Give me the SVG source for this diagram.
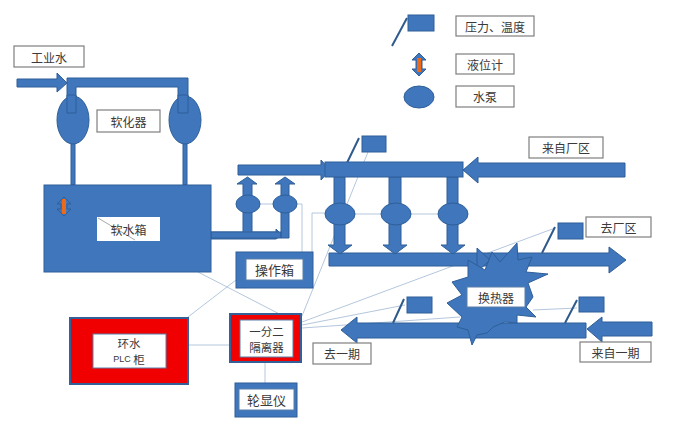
<svg xmlns="http://www.w3.org/2000/svg" width="684" height="428" viewBox="0 0 684 428">
<style>
text{font-family:"Noto Sans CJK SC","Liberation Sans",sans-serif;font-size:12px;fill:#3a3a3a;text-anchor:middle;dominant-baseline:central}
.lb{fill:#fff;stroke:#7f7f7f;stroke-width:1.2}
.b{fill:#3f76bc;stroke:#2f5f98;stroke-width:1}
.s{fill:none;stroke:#2f5a8c;stroke-width:2}
.t{fill:none;stroke:#b4c7dc;stroke-width:1}
.r{fill:#f00000;stroke:#34609a;stroke-width:2}
.w{fill:#fff;stroke:#5b7fa8;stroke-width:1}
.o{fill:#ea6a1c}
.m{font-size:13px}
.n{font-size:11.500px}
</style>
<rect width="684" height="428" fill="#fff"/>
<g id="connectors">
<path class="t" d="M260 204H302V252M355 214H381M411 214H439M312 252V213H326"/>
<path class="t" d="M198 272L295 322M188 317L236 280M302 316L368 152M302 322L555 228M302 325L405 305M302 328L460 317M533 310L577 308M188 345H229M265 363V383"/>
<path class="b" d="M17 79H57V73L67 83L57 92V87H17Z"/>
<path class="b" d="M67 78H188V113H178V87H76V113H67Z"/>
<path class="b" d="M211 232H276V229L282 235L276 239H211Z"/>
<path class="b" d="M238 165H321V160L330 170L321 180V175H238Z"/>
<path class="b" d="M243 236V184H237L247.500 177L257 184H252V236Z"/>
<path class="b" d="M281 238V184H275L285 177L295 184H289V238H211V232H281Z"/>
<path class="b" d="M329 253H609V247L626 260L609 273V266H329Z"/>
<path class="b" d="M477 248L490 260L477 272Z"/>
<path class="b" d="M334 177H345V245H352L340 254L328 245H334Z"/>
<path class="b" d="M389 177H401V245H407L395 254L383 245H389Z"/>
<path class="b" d="M447 177H458V245H465L453 254L441 245H447Z"/>
<path class="b" d="M625 163H478V157L463 170L478 183V177H625Z"/>
<path class="b" d="M586 323H357V317L341 330L357 343V338H586Z"/>
<path class="b" d="M652 322H602V317L587 329L602 342V336H652Z"/>
<path class="b" d="M71 143H75V185H71ZM183 143H187V185H183Z"/>
<path class="s" d="M359 138L345 167M555 227L542 253M404 299L393 323M577 300L565 323"/>
</g>
<g id="softener-1"><ellipse class="b" cx="73" cy="120" rx="16" ry="24"/><path class="b" d="M67 95H76V113H67Z"/></g>
<g id="softener-2"><ellipse class="b" cx="185" cy="120" rx="16" ry="24"/><path class="b" d="M178 95H188V113H178Z"/></g>
<g id="softener-label"><rect class="lb" x="97" y="110" width="63" height="22"/><text x="128.500" y="121">软化器</text></g>
<g id="tank"><rect class="b" x="44" y="185" width="167" height="87"/>
<path class="b" d="M64 197L71 204H67V209L71 209L64 216L57 209H61V204H57Z"/><rect class="o" x="62" y="199" width="4" height="15"/></g>
<g id="tank-label"><rect x="97" y="217" width="63" height="24" fill="#fff"/><path class="t" d="M98 218L135 240" style="stroke:#a8a8a8"/><text x="128.500" y="229">软水箱</text></g>
<g id="water-label"><rect class="lb" x="14" y="46" width="70" height="21"/><text x="49" y="57">工业水</text></g>
<g id="pump-1"><ellipse class="b" cx="248" cy="204" rx="12" ry="9"/></g>
<g id="pump-2"><ellipse class="b" cx="285" cy="204" rx="12" ry="9"/></g>
<g id="header"><rect class="b" x="325" y="162" width="138" height="15"/></g>
<g id="pump-3"><ellipse class="b" cx="340" cy="214" rx="15" ry="11"/></g>
<g id="pump-4"><ellipse class="b" cx="396" cy="214" rx="15" ry="11"/></g>
<g id="pump-5"><ellipse class="b" cx="453" cy="214" rx="15" ry="11"/></g>
<g id="sensor-1"><rect class="b" x="362" y="136" width="24" height="16"/></g>
<g id="sensor-2"><rect class="b" x="558" y="223" width="25" height="16"/></g>
<g id="sensor-3"><rect class="b" x="407" y="297" width="25" height="16"/></g>
<g id="sensor-4"><rect class="b" x="579" y="297" width="25" height="15"/></g>
<g id="from-plant"><rect class="lb" x="529" y="137" width="74" height="21"/><text x="566" y="147.500">来自厂区</text></g>
<g id="to-plant"><rect class="lb" x="586" y="217" width="65" height="20"/><text x="618.500" y="227">去厂区</text></g>
<g id="heat-exchanger">
<polygon class="b" points="517,243 518,260 532,257 526,272 548,274 528,283 533,297 526,307 536,317 517,315 517,323 505,322 493,327 487,333 477,335 472,345 468,330 457,327 462,317 447,303 462,295 452,282 468,277 468,260 485,270 492,252 500,262"/>
<rect class="w" x="467" y="287" width="58" height="20"/><text x="496" y="297">换热器</text></g>
<g id="to-phase1"><rect class="lb" x="313" y="343" width="58" height="21"/><text x="342" y="353.500">去一期</text></g>
<g id="from-phase1"><rect class="lb" x="580" y="342" width="71" height="20"/><text x="615.500" y="352">来自一期</text></g>
<g id="operation-box"><rect class="b" x="236" y="252" width="77" height="36"/><rect class="w" x="246" y="259" width="57" height="21"/><text class="m" x="274.500" y="269.500">操作箱</text></g>
<g id="plc"><rect class="r" x="70" y="318" width="118" height="66"/><rect class="w" x="93" y="334" width="73" height="34"/><text class="n" x="129" y="343">环水</text><text class="n" x="129" y="359"><tspan style="font-size:9px;font-family:'Liberation Sans'">PLC </tspan>柜</text></g>
<g id="isolator"><rect class="r" x="230" y="314" width="71" height="48"/><rect class="w" x="240" y="320" width="53" height="37"/><text class="n" x="266.500" y="330.500">一分二</text><text class="n" x="266.500" y="346.500">隔离器</text></g>
<g id="display"><rect class="b" x="235" y="383" width="62" height="34"/><rect class="w" x="239" y="389" width="55" height="21"/><text class="m" x="266.500" y="399.500">轮显仪</text></g>
<g id="legend-sensor"><rect class="b" x="408" y="15" width="26" height="16"/><path class="s" d="M407 18L392 46"/><rect class="lb" x="456" y="16" width="78" height="20"/><text x="495" y="26">压力、温度</text></g>
<g id="legend-level"><path class="b" d="M419 53L426 60H422V69H426L419 76L412 69H416V60H412Z"/><rect class="o" x="417" y="58" width="4" height="14"/><rect class="lb" x="456" y="54" width="58" height="20"/><text x="485" y="64">液位计</text></g>
<g id="legend-pump"><ellipse class="b" cx="419" cy="97" rx="15" ry="11"/><rect class="lb" x="456" y="86" width="58" height="21"/><text x="485" y="96.500">水泵</text></g>
</svg>
